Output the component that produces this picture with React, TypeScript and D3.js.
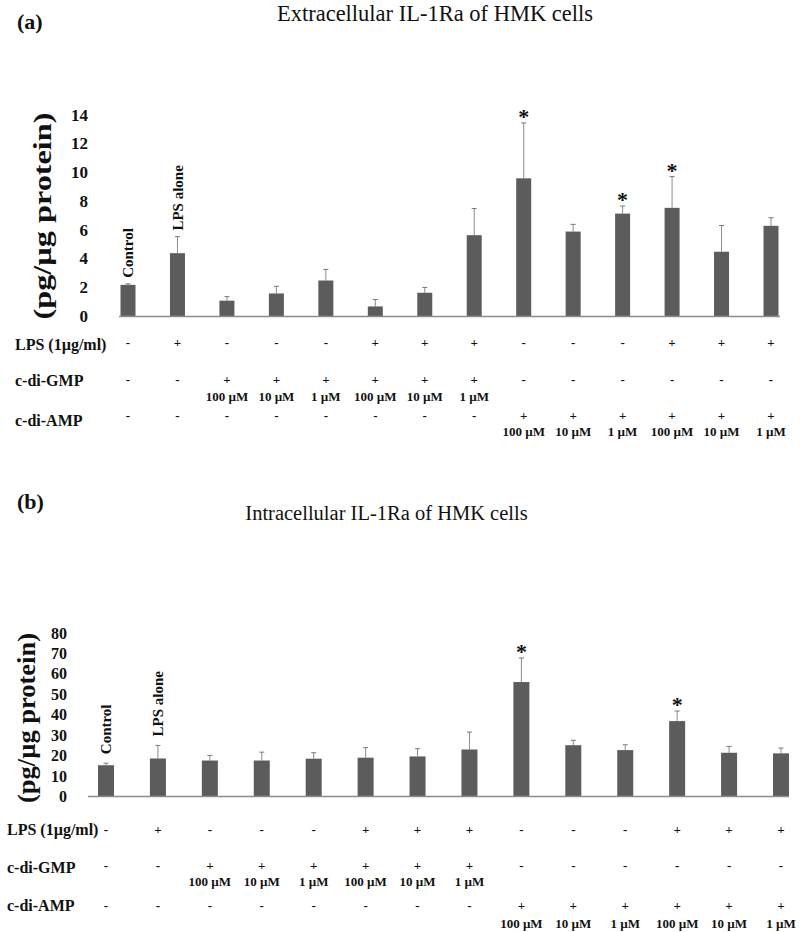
import * as d3 from "d3"

// treatment groups (left to right)
const groups = [
  "Control", "LPS alone", "GMP 100", "GMP 10", "GMP 1", "LPS+GMP 100", "LPS+GMP 10",
  "LPS+GMP 1", "AMP 100", "AMP 10", "AMP 1", "LPS+AMP 100", "LPS+AMP 10", "LPS+AMP 1",
]
const barLabels = ["Control", "LPS alone"]
const lpsRow = ["-", "+", "-", "-", "-", "+", "+", "+", "-", "-", "-", "+", "+", "+"]
const gmpRow = ["-", "-", "+", "+", "+", "+", "+", "+", "-", "-", "-", "-", "-", "-"]
const gmpDose = ["", "", "100 µM", "10 µM", "1 µM", "100 µM", "10 µM", "1 µM", "", "", "", "", "", ""]
const ampRow = ["-", "-", "-", "-", "-", "-", "-", "-", "+", "+", "+", "+", "+", "+"]
const ampDose = ["", "", "", "", "", "", "", "", "100 µM", "10 µM", "1 µM", "100 µM", "10 µM", "1 µM"]

// (a) extracellular IL-1Ra
const extraMean = [2.2, 4.4, 1.1, 1.6, 2.5, 0.7, 1.65, 5.65, 9.6, 5.9, 7.15, 7.55, 4.5, 6.3]
const extraErr = [0.07, 1.15, 0.28, 0.5, 0.77, 0.48, 0.37, 1.85, 3.85, 0.5, 0.52, 2.17, 1.82, 0.56]
const extraSig = [0, 0, 0, 0, 0, 0, 0, 0, 1, 0, 1, 1, 0, 0]
const extraTicks = [0, 2, 4, 6, 8, 10, 12, 14]

// (b) intracellular IL-1Ra
const intraMean = [15.3, 18.6, 17.6, 17.6, 18.5, 19.0, 19.6, 23.0, 56.0, 25.1, 22.7, 36.9, 21.4, 21.1]
const intraErr = [1.0, 6.4, 2.5, 4.1, 2.9, 4.9, 3.8, 8.5, 11.8, 2.4, 2.6, 4.9, 3.1, 2.6]
const intraSig = [0, 0, 0, 0, 0, 0, 0, 0, 1, 0, 0, 1, 0, 0]
const intraTicks = [0, 10, 20, 30, 40, 50, 60, 70, 80]

const FONT = "'Liberation Serif', 'Times New Roman', serif"

function Panel(p: any) {
  const x = d3.scalePoint<string>().domain(groups).range(p.xRange)
  const y = d3.scaleLinear().domain([0, p.ticks[p.ticks.length - 1]]).range(p.yRange)
  const bw = p.barW

  return (
    <g fontFamily={FONT} fill="#111">
      <text x={p.tagX} y={p.tagY} fontSize={22} fontWeight="bold">{p.tag}</text>
      <text x={p.titleX} y={p.titleY} fontSize={p.titleSize} textAnchor="middle">{p.title}</text>

      <text
        transform={`translate(${p.yLabelX},${p.yLabelMid}) rotate(-90)`}
        dy="0.35em"
        fontSize={26}
        fontWeight="bold"
        textAnchor="middle"
        textLength={p.yLabelLen}
        lengthAdjust="spacingAndGlyphs"
      >
        (pg/µg protein)
      </text>

      {p.ticks.map((t: number) => (
        <text key={t} x={p.tickX} y={y(t)} dominantBaseline="central" textAnchor="end"
          fontSize={p.tickSize} fontWeight="bold">{t}</text>
      ))}

      {groups.map((g, i) => {
        const cx = x(g)!
        const top = y(p.mean[i])
        const et = y(p.mean[i] + p.err[i])
        return (
          <g key={g}>
            <line x1={cx} x2={cx} y1={top} y2={et} stroke="#8c8c8c" strokeWidth={1} />
            <line x1={cx - 2.5} x2={cx + 2.5} y1={et} y2={et} stroke="#777" strokeWidth={1} />
            <rect x={cx - bw / 2} y={top} width={bw} height={y(0) - top} fill="#5c5c5c" />
            {p.sig[i] ? (
              <text x={cx} y={et + 1} textAnchor="middle" fontSize={22} fontWeight="bold">*</text>
            ) : null}
            {i < barLabels.length ? (
              <text transform={`translate(${cx},${et - p.catGap}) rotate(-90)`} dy="0.35em"
                fontSize={15} fontWeight="bold">{barLabels[i]}</text>
            ) : null}
          </g>
        )
      })}

      <line x1={p.axisX[0]} x2={p.axisX[1]} y1={y(0)} y2={y(0)} stroke="#8c8c8c" strokeWidth={1.5} />

      <g fontWeight="bold" fontSize={16}>
        <text x={p.rowX} y={p.rows.lpsL} dominantBaseline="central">LPS (1µg/ml)</text>
        <text x={p.rowX} y={p.rows.gmpL} dominantBaseline="central">c-di-GMP</text>
        <text x={p.rowX} y={p.rows.ampL} dominantBaseline="central">c-di-AMP</text>
      </g>
      <g fontWeight="bold" textAnchor="middle">
        {groups.map((g, i) => (
          <g key={g}>
            <text x={x(g)} y={p.rows.lps} fontSize={13} dominantBaseline="central">{lpsRow[i]}</text>
            <text x={x(g)} y={p.rows.gmp} fontSize={13} dominantBaseline="central">{gmpRow[i]}</text>
            <text x={x(g)} y={p.rows.gmpD} fontSize={13} dominantBaseline="central">{gmpDose[i]}</text>
            <text x={x(g)} y={p.rows.amp} fontSize={13} dominantBaseline="central">{ampRow[i]}</text>
            <text x={x(g)} y={p.rows.ampD} fontSize={13} dominantBaseline="central">{ampDose[i]}</text>
          </g>
        ))}
      </g>
    </g>
  )
}

export default function App() {
  return (
    <svg width={800} height={932} style={{ position: "absolute", left: 0, top: 0, background: "#fff" }}>
      <Panel
        tag="(a)" tagX={17} tagY={29}
        title="Extracellular IL-1Ra of HMK cells" titleX={435} titleY={21} titleSize={22.5}
        yLabelX={42} yLabelMid={216} yLabelLen={207}
        tickX={88} tickSize={17}
        ticks={extraTicks} mean={extraMean} err={extraErr} sig={extraSig}
        yRange={[316.5, 115]} xRange={[128, 771]} barW={15} axisX={[119, 780]} catGap={6}
        rowX={15}
        rows={{ lpsL: 344, gmpL: 380, ampL: 420, lps: 342, gmp: 379, gmpD: 396.5, amp: 415, ampD: 431 }}
      />
      <Panel
        tag="(b)" tagX={17} tagY={509}
        title="Intracellular IL-1Ra of HMK cells" titleX={386.5} titleY={520} titleSize={20.5}
        yLabelX={26} yLabelMid={718} yLabelLen={170}
        tickX={67} tickSize={16}
        ticks={intraTicks} mean={intraMean} err={intraErr} sig={intraSig}
        yRange={[796.5, 633]} xRange={[106, 781]} barW={16} axisX={[88, 789]} catGap={9}
        rowX={7}
        rows={{ lpsL: 829, gmpL: 867, ampL: 905, lps: 829, gmp: 865, gmpD: 881, amp: 905, ampD: 923 }}
      />
    </svg>
  )
}
